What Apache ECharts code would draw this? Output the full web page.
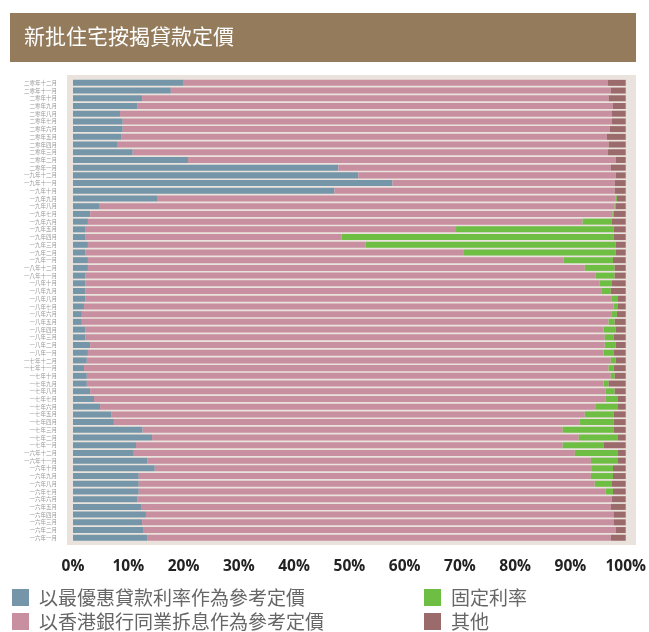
<!DOCTYPE html>
<html>
<head>
<meta charset="utf-8">
<script src="https://cdn.jsdelivr.net/npm/echarts@6/dist/echarts.min.js"></script>
<style>
html,body{margin:0;padding:0;background:#ffffff;}
#chart{width:649px;height:632px;}
</style>
</head>
<body>
<div id="chart"></div>
<script>
// Categories, top to bottom
var categories = [
'二零年十二月','二零年十一月','二零年十月','二零年九月','二零年八月','二零年七月','二零年六月','二零年五月','二零年四月','二零年三月','二零年二月','二零年一月',
'一九年十二月','一九年十一月','一九年十月','一九年九月','一九年八月','一九年七月','一九年六月','一九年五月','一九年四月','一九年三月','一九年二月','一九年一月',
'一八年十二月','一八年十一月','一八年十月','一八年九月','一八年八月','一八年七月','一八年六月','一八年五月','一八年四月','一八年三月','一八年二月','一八年一月',
'一七年十二月','一七年十一月','一七年十月','一七年九月','一七年八月','一七年七月','一七年六月','一七年五月','一七年四月','一七年三月','一七年二月','一七年一月',
'一六年十二月','一六年十一月','一六年十月','一六年九月','一六年八月','一六年七月','一六年六月','一六年五月','一六年四月','一六年三月','一六年二月','一六年一月'
];

var seriesNames = ['以最優惠貸款利率作為參考定價','以香港銀行同業拆息作為參考定價','固定利率','其他'];

var primeRate = [19.9,17.7,12.5,11.7,8.5,9.0,9.0,8.7,8.1,10.8,20.8,48.0,
51.6,57.8,47.3,15.2,4.7,3.1,2.7,2.3,2.3,2.7,2.2,2.7,
2.7,2.2,2.2,2.2,2.2,2.0,1.6,1.6,2.2,2.2,3.1,2.7,
2.5,2.0,2.5,2.5,3.1,3.8,4.9,6.9,7.4,12.6,14.3,11.4,
11.0,13.4,14.8,11.9,11.9,11.9,11.7,12.3,13.2,12.5,12.8,13.4];

var hibor = [76.9,79.6,84.4,86.0,89.0,88.5,88.1,87.9,88.8,86.0,77.4,49.3,
46.6,40.2,50.7,83.0,93.3,94.5,89.5,67.0,46.3,50.2,68.4,86.1,
89.9,92.4,93.1,93.5,95.3,95.8,95.9,95.3,93.8,94.0,93.1,93.3,
94.8,94.9,94.8,93.5,93.3,92.6,89.7,85.7,84.3,76.0,77.2,77.2,
79.8,80.3,79.1,81.8,82.5,84.5,85.8,85.0,84.6,85.3,85.4,83.9];

var fixedRate = [0,0,0,0,0,0,0,0,0,0,0,0,
0,0,0,0.2,0.2,0.2,5.3,28.5,49.2,45.3,27.6,8.9,
5.4,3.4,2.2,1.6,1.1,0.8,0.9,1.1,2.2,1.6,2.0,1.8,
0.9,0.9,0.7,0.9,1.6,2.2,4.0,5.2,6.1,9.2,7.1,7.4,
7.8,4.9,3.8,4.0,3.1,1.3,0,0,0,0,0,0];

var others = [3.2,2.7,3.1,2.3,2.5,2.5,2.9,3.4,3.1,3.2,1.8,2.7,
1.8,2.0,2.0,1.6,1.8,2.2,2.5,2.2,2.2,1.8,1.8,2.3,
2.0,2.0,2.5,2.7,1.4,1.4,1.6,2.0,1.8,2.2,1.8,2.2,
1.8,2.2,2.0,3.1,2.0,1.4,1.4,2.2,2.2,2.2,1.4,4.0,
1.4,1.4,2.3,2.3,2.5,2.3,2.5,2.7,2.2,2.2,1.8,2.7];

var colors = ['#7596A9','#C88FA0','#6FBE44','#9B6A6A'];
var cjk = '"Noto Sans CJK TC","Noto Sans CJK SC",sans-serif';

var chart = echarts.init(document.getElementById('chart'), null, {renderer:'canvas'});

function mk(i, data){
  return {
    name: seriesNames[i], type:'bar', stack:'total', data:data,
    barCategoryGap:'22%',
    itemStyle:{color:colors[i]},
    emphasis:{disabled:true},
    silent:true
  };
}

var legendText = {fontSize:19, color:'#666', fontFamily:cjk, padding:[0,0,0,5]};

var option = {
  animation:false,
  backgroundColor:'#ffffff',
  color: colors,
  graphic:[
    {type:'rect', z:-10, shape:{x:10,y:13,width:626,height:49}, style:{fill:'#937B5C'}},
    {type:'text', z:10, left:24, top:26, style:{text:'新批住宅按揭貸款定價', fill:'#ffffff', font:'21px '+cjk}},
    {type:'rect', z:-10, shape:{x:67,y:75,width:569,height:470}, style:{fill:'#EAE3DD'}}
  ],
  grid:{left:73, width:554, top:79, height:462.6, containLabel:false},
  xAxis:{
    type:'value', min:0, max:100, interval:10,
    axisLine:{show:false}, axisTick:{show:false}, splitLine:{show:false},
    axisLabel:{formatter:'{value}%', margin:17, color:'#222', fontSize:15.5, fontWeight:'bold', fontFamily:'"Open Sans",sans-serif'}
  },
  yAxis:{
    type:'category', data:categories, inverse:true,
    axisLine:{show:false}, axisTick:{show:false}, splitLine:{show:false},
    axisLabel:{margin:16, color:'#999', fontSize:5.5, fontFamily:cjk, interval:0}
  },
  legend:[
    {data:[seriesNames[0],seriesNames[1]], orient:'vertical', left:12, top:588, itemWidth:17, itemHeight:17, itemGap:5,
     icon:'rect', selectedMode:false, padding:0, textStyle:legendText},
    {data:[seriesNames[2],seriesNames[3]], orient:'vertical', left:424, top:588, itemWidth:17, itemHeight:17, itemGap:5,
     icon:'rect', selectedMode:false, padding:0, textStyle:legendText}
  ],
  series:[mk(0,primeRate), mk(1,hibor), mk(2,fixedRate), mk(3,others)]
};
chart.setOption(option);
</script>
</body>
</html>
